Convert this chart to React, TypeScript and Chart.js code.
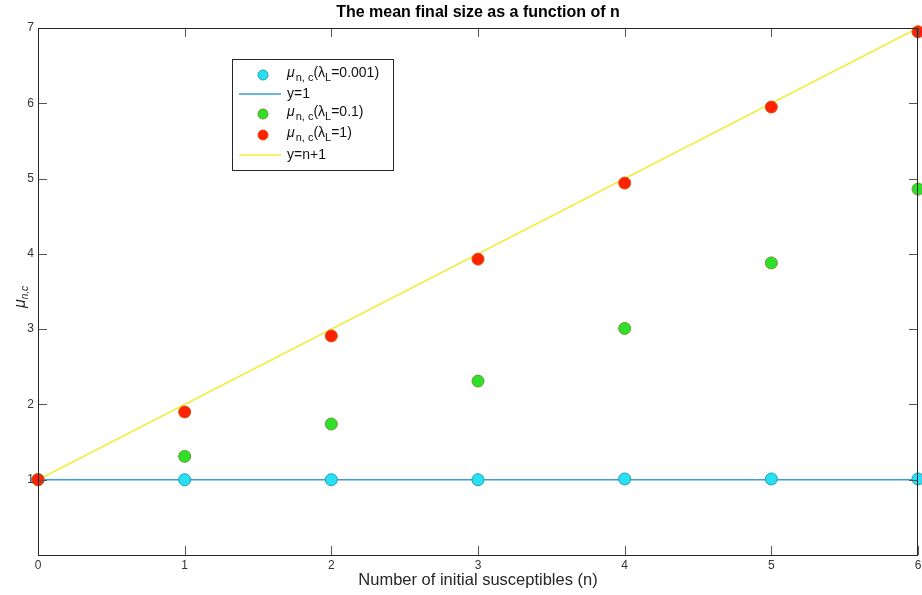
import React, { useEffect, useRef } from "react";
import { Chart, registerables } from "chart.js";

Chart.register(...registerables);

const nValues = [0, 1, 2, 3, 4, 5, 6];
const muLow = [1.0, 1.0, 1.0, 1.0, 1.01, 1.01, 1.01];
const muMid = [1.0, 1.31, 1.74, 2.31, 3.01, 3.88, 4.86];
const muHigh = [1.0, 1.9, 2.91, 3.93, 4.94, 5.95, 6.95];
const lineOne = [1, 1];
const lineN1 = [1, 7];
const lineX = [0, 6];
const xTicks = [0, 1, 2, 3, 4, 5, 6];
const yTicks = [1, 2, 3, 4, 5, 6, 7];

const title = "The mean final size as a function of n";
const xTitle = "Number of initial susceptibles (n)";

const FONT = "'Liberation Sans', Arial, sans-serif";

const C_CYAN = "#29e0f2";
const C_CYAN_B = "#1f9fb8";
const C_GREEN = "#2ee02a";
const C_GREEN_B = "#6a9a2a";
const C_RED = "#ff2200";
const C_RED_B = "#d85010";
const C_BLUE = "#3d9bd6";
const C_YELLOW = "#f4ec3c";

function drawMuLabel(ctx: CanvasRenderingContext2D, x: number, y: number, lam: string) {
  ctx.textBaseline = "alphabetic";
  ctx.textAlign = "left";
  ctx.fillStyle = "#111";
  let cx = x;
  ctx.font = `italic 14px ${FONT}`;
  ctx.fillText("\u03bc", cx, y);
  cx += ctx.measureText("\u03bc").width + 1;
  ctx.font = `11px ${FONT}`;
  ctx.fillText("n, c", cx, y + 4);
  cx += ctx.measureText("n, c").width;
  ctx.font = `14px ${FONT}`;
  ctx.fillText("(\u03bb", cx, y);
  cx += ctx.measureText("(\u03bb").width;
  ctx.font = `11px ${FONT}`;
  ctx.fillText("L", cx, y + 4);
  cx += ctx.measureText("L").width;
  ctx.font = `14px ${FONT}`;
  ctx.fillText("=" + lam + ")", cx, y);
}

const decorPlugin = {
  id: "decor",
  afterDraw(chart: any) {
    const ctx: CanvasRenderingContext2D = chart.ctx;
    const { left, right, top, bottom } = chart.chartArea;
    const xs = chart.scales.x;
    const ys = chart.scales.y;
    ctx.save();
    // inward ticks
    ctx.strokeStyle = "#555";
    ctx.lineWidth = 1;
    ctx.beginPath();
    for (const t of xTicks) {
      const px = Math.round(xs.getPixelForValue(t)) + 0.5;
      ctx.moveTo(px, bottom);
      ctx.lineTo(px, bottom - 9);
      ctx.moveTo(px, top);
      ctx.lineTo(px, top + 9);
    }
    for (const t of yTicks) {
      const py = Math.round(ys.getPixelForValue(t)) + 0.5;
      ctx.moveTo(left, py);
      ctx.lineTo(left + 9, py);
      ctx.moveTo(right, py);
      ctx.lineTo(right - 9, py);
    }
    ctx.stroke();
    // box
    ctx.strokeStyle = "#262626";
    ctx.strokeRect(Math.round(left) + 0.5, Math.round(top) + 0.5, Math.round(right - left) - 1, Math.round(bottom - top));
    // tick labels
    ctx.fillStyle = "#333";
    ctx.font = `12px ${FONT}`;
    ctx.textAlign = "center";
    ctx.textBaseline = "top";
    for (const t of xTicks) {
      ctx.fillText(String(t), xs.getPixelForValue(t), bottom + 5);
    }
    ctx.textAlign = "right";
    ctx.textBaseline = "middle";
    for (const t of yTicks) {
      ctx.fillText(String(t), left - 4, ys.getPixelForValue(t));
    }
    // title
    ctx.fillStyle = "#000";
    ctx.font = `bold 16px ${FONT}`;
    ctx.textAlign = "center";
    ctx.textBaseline = "middle";
    ctx.fillText(title, 478, 13);
    // x title
    ctx.font = `16.5px ${FONT}`;
    ctx.fillStyle = "#262626";
    ctx.fillText(xTitle, 478, 580);
    // y title
    ctx.save();
    ctx.translate(25, 296);
    ctx.rotate(-Math.PI / 2);
    ctx.textAlign = "left";
    ctx.textBaseline = "alphabetic";
    ctx.font = `italic 16px ${FONT}`;
    ctx.fillText("\u03bc", -12, 0);
    const w = ctx.measureText("\u03bc").width;
    ctx.font = `italic 10px ${FONT}`;
    ctx.fillText("n,c", -12 + w, 3);
    ctx.restore();

    // legend
    const lx = 232, ly = 59, lw = 161, lh = 111;
    ctx.fillStyle = "#fff";
    ctx.fillRect(lx, ly, lw, lh);
    ctx.strokeStyle = "#262626";
    ctx.lineWidth = 1;
    ctx.strokeRect(lx + 0.5, ly + 0.5, lw, lh);
    const mx = 263;
    const tx = 287;
    const rows = [75, 94, 114, 135, 155];
    const dot = (y: number, fill: string, border: string) => {
      ctx.beginPath();
      ctx.arc(mx, y, 5, 0, Math.PI * 2);
      ctx.fillStyle = fill;
      ctx.fill();
      ctx.strokeStyle = border;
      ctx.lineWidth = 1;
      ctx.stroke();
    };
    const seg = (y: number, color: string) => {
      ctx.beginPath();
      ctx.moveTo(239, y);
      ctx.lineTo(281, y);
      ctx.strokeStyle = color;
      ctx.lineWidth = 1.5;
      ctx.stroke();
    };
    dot(rows[0], C_CYAN, C_CYAN_B);
    drawMuLabel(ctx, tx, rows[0] + 2, "0.001");
    seg(rows[1], C_BLUE);
    ctx.fillStyle = "#111";
    ctx.font = `14px ${FONT}`;
    ctx.textBaseline = "middle";
    ctx.textAlign = "left";
    ctx.fillText("y=1", tx, rows[1]);
    dot(rows[2], C_GREEN, C_GREEN_B);
    drawMuLabel(ctx, tx, rows[2] + 2, "0.1");
    dot(rows[3], C_RED, C_RED_B);
    drawMuLabel(ctx, tx, rows[3] + 2, "1");
    seg(rows[4], C_YELLOW);
    ctx.fillStyle = "#111";
    ctx.font = `14px ${FONT}`;
    ctx.textBaseline = "middle";
    ctx.fillText("y=n+1", tx, rows[4]);
    ctx.restore();
  },
};

export default function App() {
  const ref = useRef<HTMLCanvasElement | null>(null);
  useEffect(() => {
    document.body.style.margin = "0";
    document.body.style.overflow = "hidden";
    const canvas = ref.current;
    if (!canvas) return;
    const pts = (ys: number[]) => nValues.map((n, i) => ({ x: n, y: ys[i] }));
    const line = (ys: number[]) => lineX.map((x, i) => ({ x, y: ys[i] }));
    const chart = new Chart(canvas, {
      type: "scatter",
      data: {
        datasets: [
          {
            label: "y=1",
            data: line(lineOne),
            showLine: true,
            borderColor: C_BLUE,
            borderWidth: 1.5,
            pointRadius: 0,
            order: 5,
          },
          {
            label: "y=n+1",
            data: line(lineN1),
            showLine: true,
            borderColor: C_YELLOW,
            borderWidth: 1.5,
            pointRadius: 0,
            order: 4,
          },
          {
            label: "lambda=0.001",
            data: pts(muLow),
            backgroundColor: C_CYAN,
            borderColor: C_CYAN_B,
            borderWidth: 1,
            pointRadius: 6,
            order: 3,
          },
          {
            label: "lambda=0.1",
            data: pts(muMid),
            backgroundColor: C_GREEN,
            borderColor: C_GREEN_B,
            borderWidth: 1,
            pointRadius: 6,
            order: 2,
          },
          {
            label: "lambda=1",
            data: pts(muHigh),
            backgroundColor: C_RED,
            borderColor: C_RED_B,
            borderWidth: 1,
            pointRadius: 6,
            order: 1,
          },
        ],
      },
      options: {
        animation: false,
        responsive: false,
        maintainAspectRatio: false,
        layout: { padding: { top: 28, right: 0, left: 0, bottom: 0 } },
        plugins: { legend: { display: false }, tooltip: { enabled: false }, title: { display: false } },
        scales: {
          x: {
            type: "linear",
            min: 0,
            max: 6,
            grid: { display: false },
            border: { display: false },
            ticks: { display: false },
            afterFit: (s: any) => { s.height = 40; },
          },
          y: {
            type: "linear",
            min: 0,
            max: 7,
            grid: { display: false },
            border: { display: false },
            ticks: { display: false },
            afterFit: (s: any) => { s.width = 38; },
          },
        },
        clip: false as any,
      },
      plugins: [decorPlugin],
    });
    return () => chart.destroy();
  }, []);
  return (
    <div style={{ width: 922, height: 595, background: "#fff", overflow: "hidden" }}>
      <canvas ref={ref} width={925} height={595} style={{ display: "block" }} />
    </div>
  );
}
